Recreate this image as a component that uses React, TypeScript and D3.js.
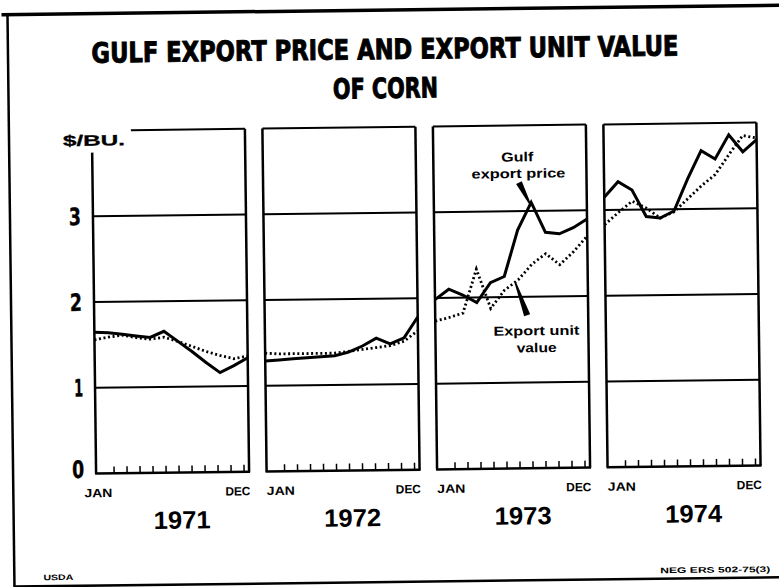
import React from 'react';
import * as d3 from 'd3';

// ---- data ----
const years = ['1971', '1972', '1973', '1974'];
const yTicks = [0, 1, 2, 3];
const gridValues = [1, 2, 3];
const monthLabels = ['JAN', 'DEC'];

const gulf1971 = [1.65, 1.64, 1.62, 1.60, 1.58, 1.65, 1.53, 1.41, 1.28, 1.16, 1.24, 1.33];
const unit1971 = [1.56, 1.59, 1.61, 1.58, 1.56, 1.58, 1.53, 1.47, 1.41, 1.36, 1.32, 1.35];
const gulf1972 = [1.29, 1.30, 1.31, 1.32, 1.33, 1.34, 1.38, 1.45, 1.54, 1.47, 1.54, 1.78];
const unit1972 = [1.38, 1.37, 1.37, 1.37, 1.37, 1.37, 1.39, 1.41, 1.43, 1.45, 1.50, 1.62];
const gulf1973 = [1.98, 2.10, 2.03, 1.94, 2.17, 2.24, 2.78, 3.10, 2.75, 2.73, 2.80, 2.90];
const unit1973 = [1.73, 1.77, 1.82, 2.33, 1.87, 2.08, 2.20, 2.38, 2.50, 2.37, 2.52, 2.70];
const gulf1974 = [3.15, 3.33, 3.23, 2.92, 2.90, 2.98, 3.35, 3.68, 3.58, 3.86, 3.66, 3.80];
const unit1974 = [2.83, 2.97, 3.10, 3.02, 2.90, 2.97, 3.12, 3.27, 3.40, 3.63, 3.85, 3.82];

const gulfSeries = [gulf1971, gulf1972, gulf1973, gulf1974];
const unitSeries = [unit1971, unit1972, unit1973, unit1974];

const titleLine1 = 'GULF EXPORT PRICE AND EXPORT UNIT VALUE';
const titleLine2 = 'OF CORN';
const unitLabel = '$/BU.';
const gulfLabel = ['Gulf', 'export price'];
const unitValueLabel = ['Export unit', 'value'];
const sourceLeft = 'USDA';
const sourceRight = 'NEG ERS 502-75(3)';

// ---- layout ----
const W = 779;
const H = 587;
const PANEL_LEFT = 94;
const PANEL_STEP = 170.5;
const PANEL_W = 153;
const COND = "'DejaVu Sans Condensed', 'Liberation Sans Narrow', 'Liberation Sans', sans-serif";
const SANS = "'Liberation Sans', 'DejaVu Sans', Arial, sans-serif";

const y = d3.scaleLinear().domain([0, 4]).range([470, 127]);

export default function App() {
  const line = (xs: d3.ScaleLinear<number, number>) =>
    d3.line<number>().x((_, i) => xs(i)).y((d) => y(d));

  return (
    <svg
      width={W}
      height={H}
      viewBox={`0 0 ${W} ${H}`}
      style={{ position: 'absolute', left: 0, top: 0, background: '#fff' }}
    >
      <rect x={0} y={0} width={W} height={H} fill="#fff" />
      <g transform="rotate(-0.7 390 300)">
        {/* frame */}
        <line x1={5} x2={810} y1={10} y2={10} stroke="#000" strokeWidth={3.5} />
        <line x1={11} x2={11} y1={9} y2={582} stroke="#000" strokeWidth={2.5} />
        <line x1={10} x2={810} y1={582} y2={582} stroke="#000" strokeWidth={2.5} />

        {/* title */}
        <text
          x={388}
          y={59}
          textAnchor="middle"
          fontFamily={COND}
          fontWeight="bold"
          fontSize={28}
          stroke="#000"
          strokeWidth={0.9}
          textLength={587}
          lengthAdjust="spacingAndGlyphs"
        >
          {titleLine1}
        </text>
        <text
          x={388}
          y={98}
          textAnchor="middle"
          fontFamily={COND}
          fontWeight="bold"
          fontSize={28}
          stroke="#000"
          strokeWidth={0.9}
          textLength={105}
          lengthAdjust="spacingAndGlyphs"
        >
          {titleLine2}
        </text>

        {/* unit label */}
        <text
          x={65}
          y={142}
          fontFamily={SANS}
          fontWeight="bold"
          fontSize={15}
          stroke="#000"
          strokeWidth={0.3}
          textLength={62}
          lengthAdjust="spacingAndGlyphs"
        >
          {unitLabel}
        </text>

        {/* y labels */}
        {yTicks.map((v) => (
          <text
            key={v}
            x={82}
            y={v === 0 ? y(v) + 4 : y(v) + 8.5}
            textAnchor="end"
            fontFamily={COND}
            fontWeight="bold"
            fontSize={24}
            stroke="#000"
            strokeWidth={0.4}
            textLength={v === 1 ? 9 : 12}
            lengthAdjust="spacingAndGlyphs"
          >
            {v}
          </text>
        ))}

        {years.map((yr, p) => {
          const left = PANEL_LEFT + p * PANEL_STEP;
          const right = left + PANEL_W;
          const xs = d3.scaleLinear().domain([0, 11]).range([left, right]);
          const tickX = d3.scaleLinear().domain([0, 10]).range([left + 18, right - 5]);
          const topY = y(4);
          const first = p === 0;
          return (
            <g key={yr}>
              {/* top border */}
              <line x1={first ? left + 39 : left} x2={right} y1={topY} y2={topY} stroke="#000" strokeWidth={2} />
              {/* grid */}
              {gridValues.map((g) => (
                <line key={g} x1={left} x2={right} y1={y(g)} y2={y(g)} stroke="#000" strokeWidth={2} />
              ))}
              {/* verticals */}
              <line x1={left} x2={left} y1={first ? 149 : topY} y2={y(0)} stroke="#000" strokeWidth={2.5} />
              <line x1={right} x2={right} y1={topY} y2={y(0)} stroke="#000" strokeWidth={2.5} />
              {/* baseline */}
              <line x1={left - 1} x2={right + 1} y1={y(0)} y2={y(0)} stroke="#000" strokeWidth={2.5} />
              {/* month ticks */}
              {d3.range(11).map((i) => (
                <line key={i} x1={tickX(i)} x2={tickX(i)} y1={y(0)} y2={y(0) - 7} stroke="#000" strokeWidth={1.5} />
              ))}
              {/* series */}
              <path
                d={line(xs)(unitSeries[p]) || ''}
                fill="none"
                stroke="#000"
                strokeWidth={2.8}
                strokeDasharray="2 2.6"
              />
              <path
                d={line(xs)(gulfSeries[p]) || ''}
                fill="none"
                stroke="#000"
                strokeWidth={3}
                strokeLinejoin="miter"
              />
              {/* month labels */}
              <text
                x={first ? left - 12 : left}
                y={493.5}
                fontFamily={SANS}
                fontWeight="bold"
                fontSize={12}
                textLength={28}
                lengthAdjust="spacingAndGlyphs"
              >
                {monthLabels[0]}
              </text>
              <text
                x={right + 1}
                y={493.5}
                textAnchor="end"
                fontFamily={SANS}
                fontWeight="bold"
                fontSize={12}
                textLength={25}
                lengthAdjust="spacingAndGlyphs"
              >
                {monthLabels[1]}
              </text>
              {/* year */}
              <text
                x={(left + right) / 2 + 9}
                y={526}
                textAnchor="middle"
                fontFamily={SANS}
                fontWeight="bold"
                fontSize={25}
                textLength={57}
                lengthAdjust="spacingAndGlyphs"
              >
                {yr}
              </text>
            </g>
          );
        })}

        {/* annotations in 1973 panel */}
        {(() => {
          const left = PANEL_LEFT + 2 * PANEL_STEP;
          const xs = d3.scaleLinear().domain([0, 11]).range([left, left + PANEL_W]);
          const tipX = xs(7) - 1;
          const tipY = y(gulf1973[7]) + 2;
          const sX = tipX - 11;
          const sY = tipY - 22;
          const wedge = (ax: number, ay: number, aw: number, bx: number, by: number, bw: number) => {
            const dx = bx - ax;
            const dy = by - ay;
            const len = Math.hypot(dx, dy);
            const px = -dy / len;
            const py = dx / len;
            return `M${ax + px * aw},${ay + py * aw}L${bx + px * bw},${by + py * bw}L${bx - px * bw},${by - py * bw}L${ax - px * aw},${ay - py * aw}Z`;
          };
          const uX = xs(6) - 3;
          const uY = y(2.17);
          return (
            <g>
              <path d={wedge(sX, sY, 3.2, tipX, tipY, 0.8)} fill="#000" />
              <path d={wedge(uX, uY, 0.8, uX + 11.5, uY + 33, 3.2)} fill="#000" />
              <text x={519} y={163} textAnchor="middle" fontFamily={SANS} fontWeight="bold" fontSize={13}
                textLength={32} lengthAdjust="spacingAndGlyphs">{gulfLabel[0]}</text>
              <text x={520} y={179.5} textAnchor="middle" fontFamily={SANS} fontWeight="bold" fontSize={13}
                textLength={94} lengthAdjust="spacingAndGlyphs">{gulfLabel[1]}</text>
              <text x={536} y={337} textAnchor="middle" fontFamily={SANS} fontWeight="bold" fontSize={13}
                textLength={86} lengthAdjust="spacingAndGlyphs">{unitValueLabel[0]}</text>
              <text x={536} y={354} textAnchor="middle" fontFamily={SANS} fontWeight="bold" fontSize={13}
                textLength={40} lengthAdjust="spacingAndGlyphs">{unitValueLabel[1]}</text>
            </g>
          );
        })()}

        {/* source notes */}
        <text x={40} y={576} fontFamily={SANS} fontWeight="bold" fontSize={8}
          textLength={30} lengthAdjust="spacingAndGlyphs">{sourceLeft}</text>
        <text x={767} y={576.5} textAnchor="end" fontFamily={SANS} fontWeight="bold" fontSize={8}
          textLength={110} lengthAdjust="spacingAndGlyphs">{sourceRight}</text>
      </g>
    </svg>
  );
}
